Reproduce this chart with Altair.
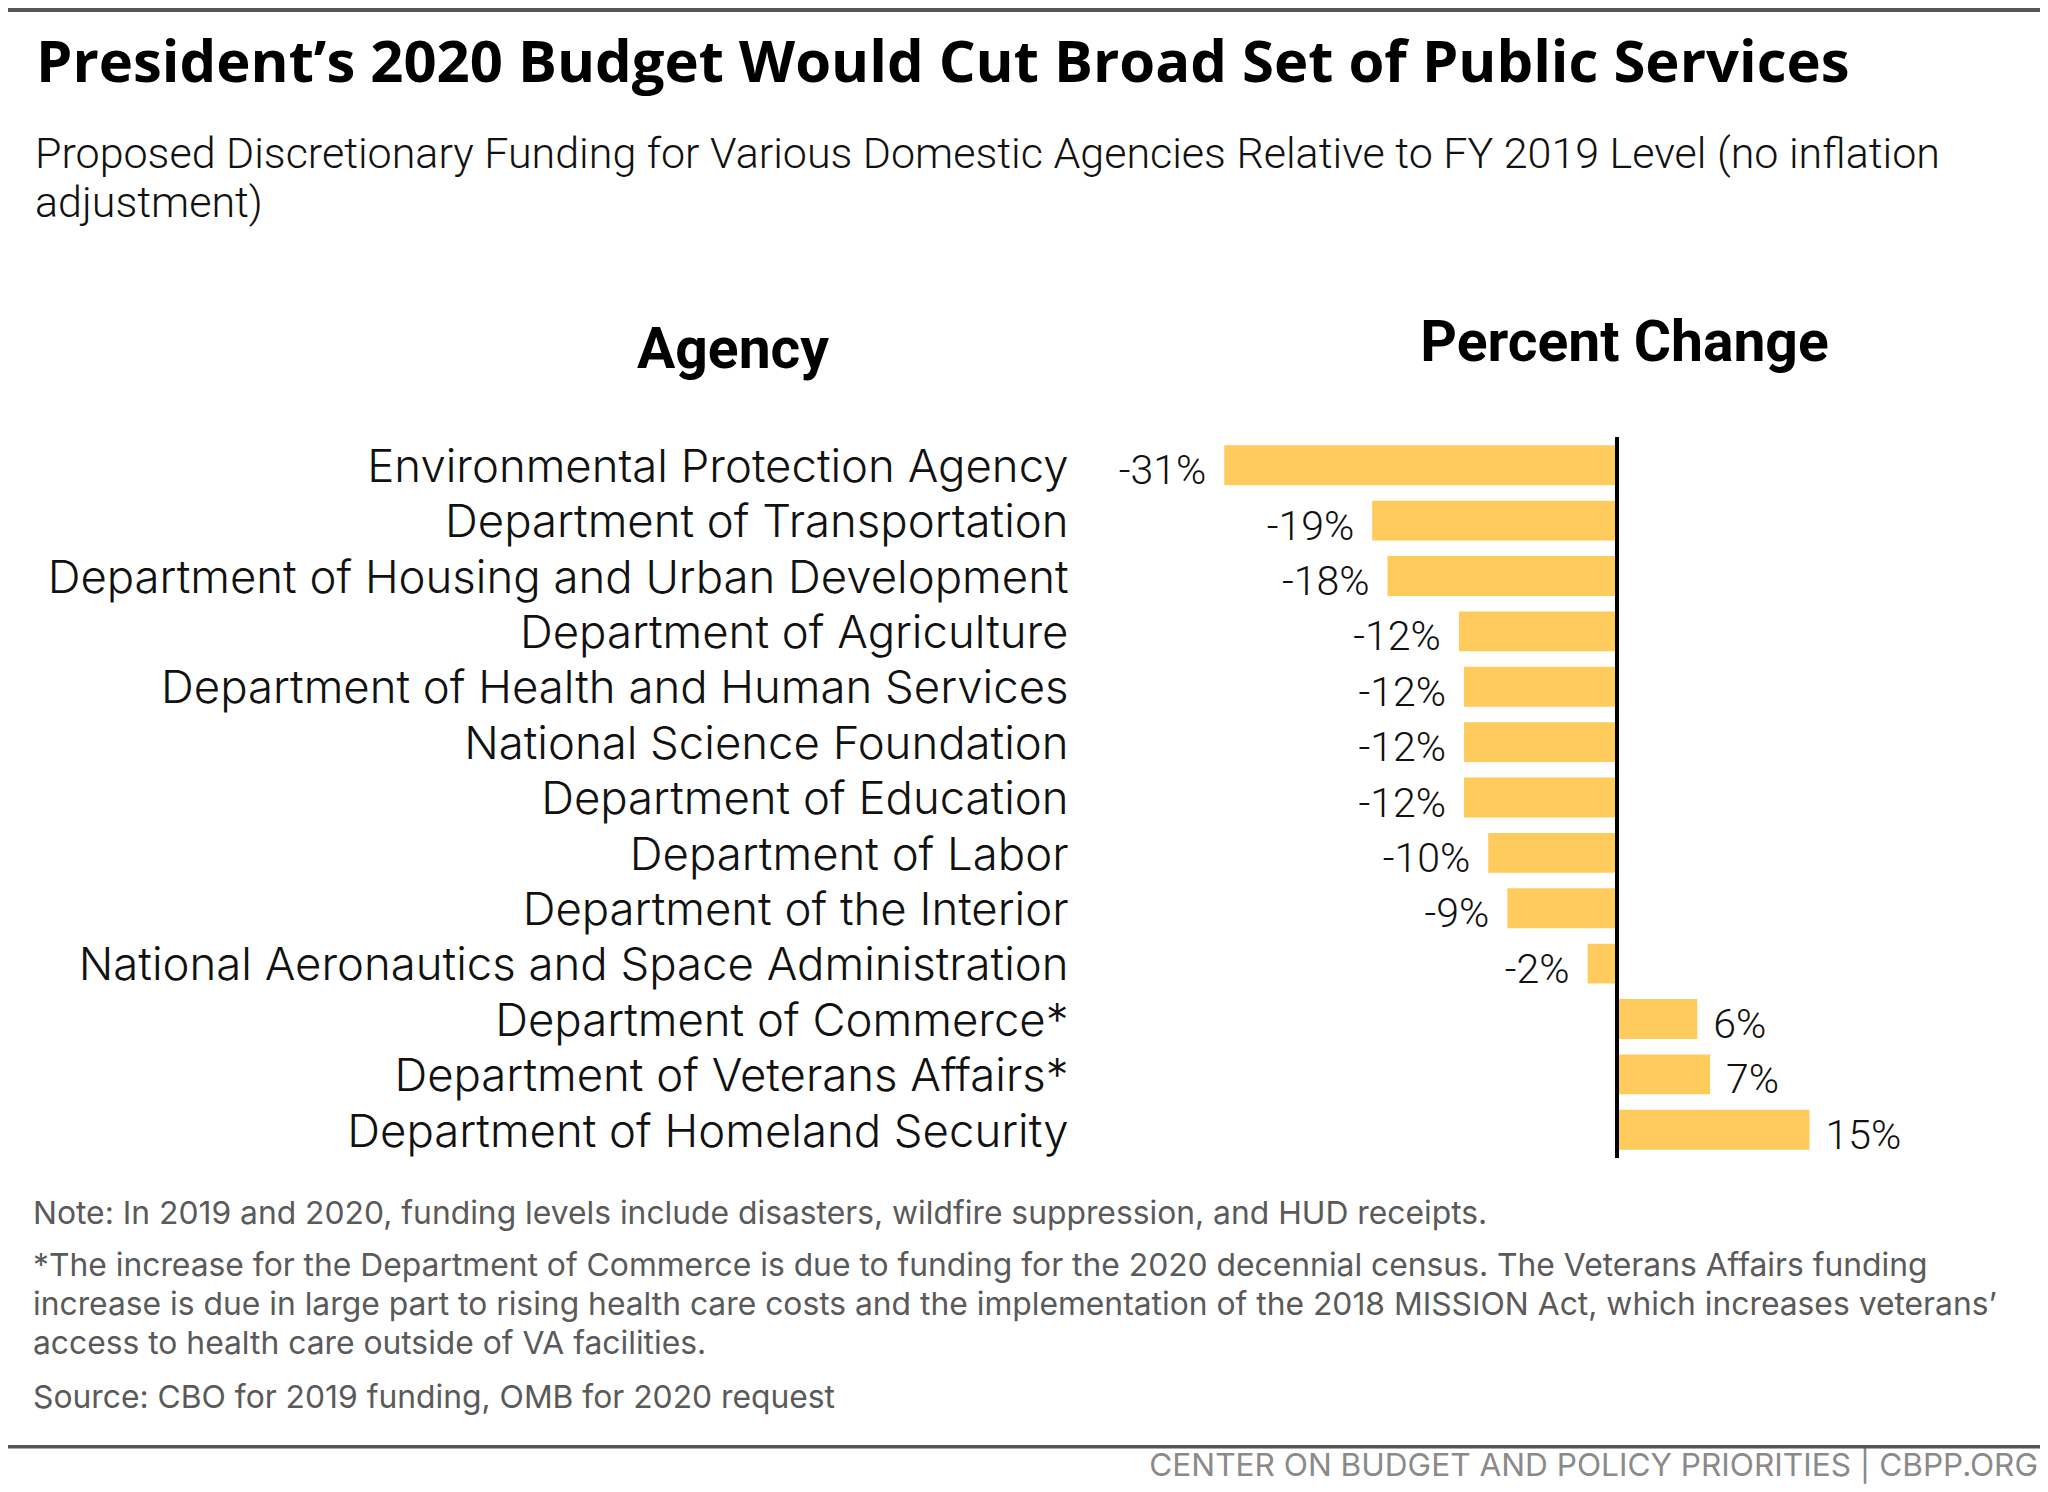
import altair as alt
import pandas as pd

agencies = [
    "Environmental Protection Agency",
    "Department of Transportation",
    "Department of Housing and Urban Development",
    "Department of Agriculture",
    "Department of Health and Human Services",
    "National Science Foundation",
    "Department of Education",
    "Department of Labor",
    "Department of the Interior",
    "National Aeronautics and Space Administration",
    "Department of Commerce*",
    "Department of Veterans Affairs*",
    "Department of Homeland Security",
]
values = [-30.8, -19.2, -18.0, -12.4, -12.0, -12.0, -12.0, -10.1, -8.6, -2.3, 6.3, 7.3, 15.1]
value_labels = ["-31%", "-19%", "-18%", "-12%", "-12%", "-12%", "-12%", "-10%", "-9%", "-2%", "6%", "7%", "15%"]

title_text = "President\u2019s 2020 Budget Would Cut Broad Set of Public Services"
subtitle_text = ("Proposed Discretionary Funding for Various Domestic Agencies Relative to FY 2019 Level (no inflation\n"
                 "adjustment)")
note1 = "Note: In 2019 and 2020, funding levels include disasters, wildfire suppression, and HUD receipts."
note2 = ("*The increase for the Department of Commerce is due to funding for the 2020 decennial census. The Veterans Affairs funding\n"
         "increase is due in large part to rising health care costs and the implementation of the 2018 MISSION Act, which increases veterans\u2019\n"
         "access to health care outside of VA facilities.")
note3 = "Source: CBO for 2019 funding, OMB for 2020 request"
footer_text = "CENTER ON BUDGET AND POLICY PRIORITIES | CBPP.ORG"

df = pd.DataFrame({"agency": agencies, "value": values, "label": value_labels})

SANS = "Open Sans"
LABEL_FONT = "Inter"
NARROW = "Roboto"
BAR = "#FFCB5C"

# layout (page px)
PAD_L, PAD_T = 1213.75, 429.5
W, H = 599.25, 720
PAD_R = 2032 - PAD_L - W
PAD_B = 1476 - PAD_T - H
OX, OY = PAD_L + 8, PAD_T + 8


def px(x):
    return x - OX


def py(y):
    return y - OY


y_axis = alt.Axis(
    title="Agency",
    titleFont=NARROW,
    titleFontSize=57,
    titleFontWeight="bold",
    titleColor="#000",
    titleAngle=0,
    titleAlign="center",
    titleBaseline="alphabetic",
    titleX=px(732.5),
    titleY=py(367.7),
    labelFont=LABEL_FONT,
    labelFontSize=45.5,
    labelFontWeight=300,
    labelColor="#111",
    labelLimit=1200,
    labelPadding=1221.75 - 1068,
    labelBaseline="alphabetic",
    labelOffset=16.7,
    ticks=False,
    tickSize=0,
    domain=False,
    grid=False,
)
x_axis = alt.Axis(
    orient="top",
    title="Percent Change",
    titleFont=NARROW,
    titleFontSize=57,
    titleFontWeight="bold",
    titleColor="#000",
    titleAlign="center",
    titleBaseline="alphabetic",
    titleX=px(1624),
    titleY=py(360.7),
    labels=False,
    ticks=False,
    domain=False,
    grid=False,
)
x_scale = alt.Scale(domain=[-31, 16], nice=False)
y_scale = alt.Scale(paddingInner=0.28, paddingOuter=0.14)

X = alt.X("value:Q", scale=x_scale, axis=x_axis)
Y = alt.Y("agency:N", sort=agencies, scale=y_scale, axis=y_axis)

bars = alt.Chart(df).mark_bar(color=BAR).encode(x=X, y=Y)

zero = alt.Chart(df).mark_rule(color="#000", strokeWidth=3).encode(x=alt.datum(0))

neg = alt.Chart(df).transform_filter("datum.value < 0").mark_text(
    align="right", baseline="alphabetic", dx=-18, dy=19, font=NARROW, fontWeight=300, fontSize=41, color="#111"
).encode(x=X, y=Y, text="label:N")

pos = alt.Chart(df).transform_filter("datum.value > 0").mark_text(
    align="left", baseline="alphabetic", dx=16, dy=19, font=NARROW, fontWeight=300, fontSize=41, color="#111"
).encode(x=X, y=Y, text="label:N")


def text_layer(txt, x, y, **kw):
    return alt.Chart(pd.DataFrame({"t": [txt]})).mark_text(
        align=kw.pop("align", "left"), baseline="alphabetic", lineBreak="\n", **kw
    ).encode(text="t:N", x=alt.value(px(x)), y=alt.value(py(y)))


title = text_layer(title_text, 36, 81.5, font=SANS, fontSize=58, fontWeight="bold", color="#000")
subtitle = text_layer(subtitle_text, 35, 168, font=NARROW, fontWeight=300, fontSize=43, color="#111", lineHeight=49)
NOTE_C = "#5a5a5a"
NOTE_F = "Inter"
n1 = text_layer(note1, 33, 1224, font=NOTE_F, fontSize=31.8, color=NOTE_C)
n2 = text_layer(note2, 33, 1276, font=NOTE_F, fontSize=31.8, color=NOTE_C, lineHeight=39)
n3 = text_layer(note3, 33, 1407.5, font=NOTE_F, fontSize=31.8, color=NOTE_C)
foot = text_layer(footer_text, 2038, 1475.5, font=NOTE_F, fontSize=31.6, color="#8a8a8a", align="right")


def hrule(y, width):
    return alt.Chart(pd.DataFrame({"a": [0]})).mark_rule(color="#555", strokeWidth=width).encode(
        x=alt.value(px(8)), x2=alt.value(px(2040)), y=alt.value(py(y))
    )


top_rule = hrule(10, 4)
bottom_rule = hrule(1446.7, 3.5)

chart = alt.layer(
    bars, zero, neg, pos, title, subtitle, n1, n2, n3, foot, top_rule, bottom_rule
).properties(
    width=W,
    height=H,
    padding={"left": PAD_L, "top": PAD_T, "right": PAD_R, "bottom": PAD_B},
    autosize=alt.AutoSizeParams(type="none"),
    background="white",
).configure_view(stroke=None)

chart.save("out.html", embed_options={"renderer": "svg", "actions": False})
